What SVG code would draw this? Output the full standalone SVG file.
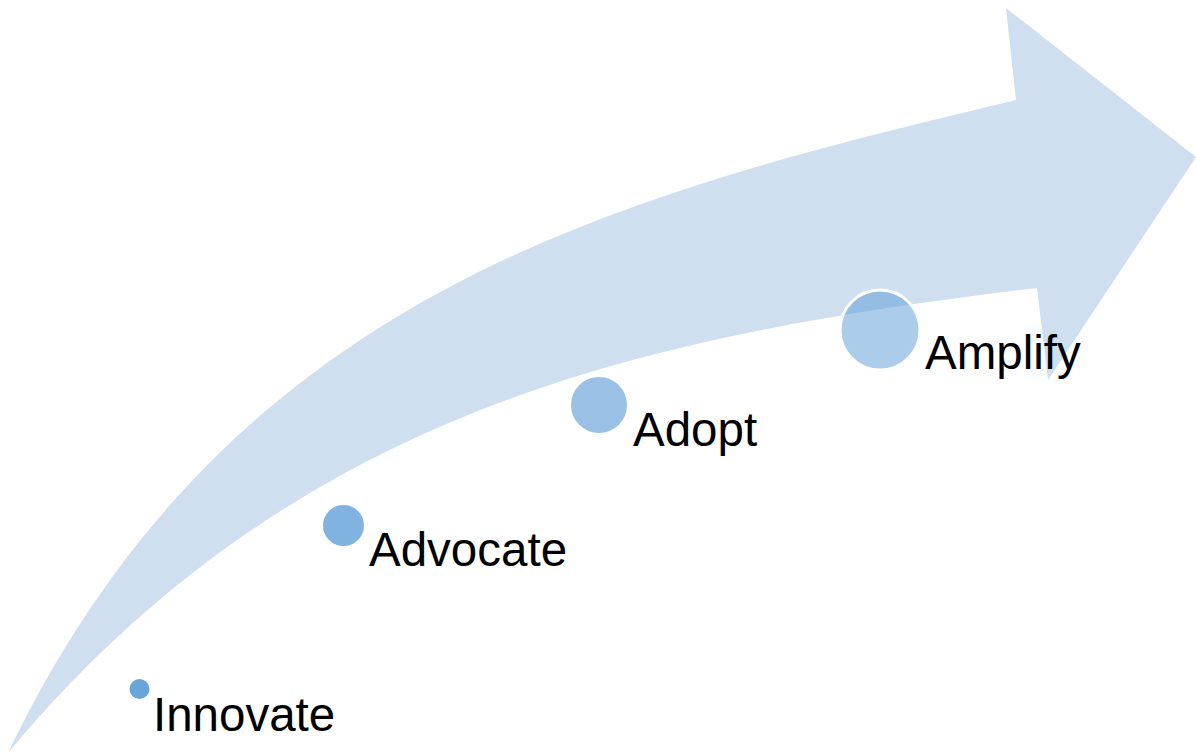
<svg xmlns="http://www.w3.org/2000/svg" width="1196" height="754" viewBox="0 0 1196 754">
<style>
.lbl{font-family:"Liberation Sans",Arial,sans-serif;font-size:47.5px;fill:#000}
.dot{stroke:#fff;stroke-width:3}
</style>
<rect width="1196" height="754" fill="#fff"/>
<g id="connectors">
<path id="arrow" d="M8,753 C230,290 620,195 1016,100 L1006,8 L1196,157 L1048,380 L1037,288 C660,334 300,402 8,753 Z" fill="#cfdfef"/>
</g>
<g id="innovate"><circle class="dot" cx="139.5" cy="689" r="11.5" fill="#68a5d9"/><text class="lbl" x="153" y="731">Innovate</text></g>
<g id="advocate"><circle class="dot" cx="343.5" cy="525.5" r="22" fill="#80b3e0"/><text class="lbl" x="369" y="566">Advocate</text></g>
<g id="adopt"><circle class="dot" cx="599" cy="405" r="29.5" fill="#9ac1e5"/><text class="lbl" x="633" y="446">Adopt</text></g>
<g id="amplify"><circle class="dot" cx="880" cy="330" r="40" fill="#579bd5" fill-opacity="0.5"/><text class="lbl" x="925" y="369">Amplify</text></g>
</svg>
